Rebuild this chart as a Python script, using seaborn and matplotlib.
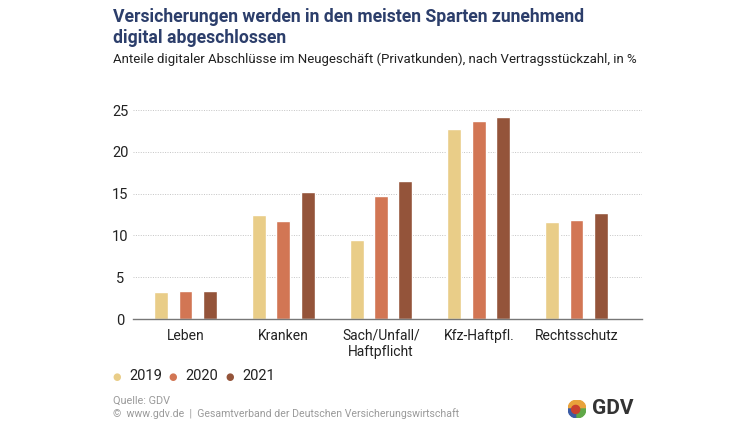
import matplotlib
matplotlib.use("Agg")
import matplotlib.pyplot as plt
import seaborn as sns
import pandas as pd
from matplotlib.patches import Wedge, Circle

categories = ["Leben", "Kranken", "Sach/Unfall/\nHaftpflicht", "Kfz-Haftpfl.", "Rechtsschutz"]
years = ["2019", "2020", "2021"]
v2019 = [3.2, 12.5, 9.5, 22.8, 11.6]
v2020 = [3.4, 11.7, 14.7, 23.7, 11.9]
v2021 = [3.4, 15.2, 16.5, 24.2, 12.7]
yticks = [0, 5, 10, 15, 20, 25]
colors = ["#E9CD88", "#D27654", "#94543A"]

rows = []
for y, vals in zip(years, [v2019, v2020, v2021]):
    for c, v in zip(categories, vals):
        rows.append({"Sparte": c, "Jahr": y, "Wert": v})
df = pd.DataFrame(rows)

sns.set_theme(style="white")
plt.rcParams["font.family"] = ["Roboto", "DejaVu Sans"]

fig = plt.figure(figsize=(7.5, 4.22), dpi=100)
ax = fig.add_axes([0.177, 0.244, 0.679, 0.495])

sns.barplot(data=df, x="Sparte", y="Wert", hue="Jahr", palette=colors,
            order=categories, hue_order=years, width=0.75, gap=0.43,
            ax=ax, legend=False, saturation=1, errorbar=None)

ax.set_ylim(0, 25)
ax.set_xlim(-0.54, 4.67)
ax.set_yticks(yticks)
ax.set_yticklabels([str(t) for t in yticks], fontsize=10.5, color="#222222", ha="center")
ax.tick_params(axis="y", length=0, pad=9)
ax.tick_params(axis="x", length=0, pad=7, labelsize=10, labelcolor="#222222")
ax.set_xlabel("")
ax.set_ylabel("")
for t in yticks[1:]:
    ax.axhline(t, color="#C4C4C4", lw=0.7, ls=(0, (1, 1.5)), zorder=0)
for s in ["top", "right", "left"]:
    ax.spines[s].set_visible(False)
ax.spines["bottom"].set_color("#777777")
ax.spines["bottom"].set_linewidth(1.0)

# Titles
fig.text(113/750, 1-17/422, "Versicherungen werden in den meisten Sparten zunehmend",
         fontsize=12.7, fontweight="bold", color="#2C3E6B", va="center", ha="left")
fig.text(113/750, 1-38/422, "digital abgeschlossen",
         fontsize=12.7, fontweight="bold", color="#2C3E6B", va="center", ha="left")
fig.text(113/750, 1-59/422,
         "Anteile digitaler Abschlüsse im Neugeschäft (Privatkunden), nach Vertragsstückzahl, in %",
         fontsize=9.55, color="#222222", va="center", ha="left")

# Legend
lx = [117, 173, 230]
for x, y_, c in zip(lx, years, colors):
    fig.text(x/750, 1-377/422, "●", color=c, fontsize=7, va="center", ha="center")
    fig.text((x+12)/750, 1-376/422, y_, color="#222222", fontsize=10.5, va="center", ha="left")

# Footer
fig.text(113/750, 1-401/422, "Quelle: GDV", fontsize=7.8, color="#9A9A9A", va="center", ha="left")
fig.text(113/750, 1-414/422,
         "©  www.gdv.de  |  Gesamtverband der Deutschen Versicherungswirtschaft",
         fontsize=7.6, color="#9A9A9A", va="center", ha="left")

# Logo
lax = fig.add_axes([568/750, 1-418/422, 18/750, 18/422])
lax.set_xlim(-1, 1); lax.set_ylim(-1, 1); lax.set_aspect("equal"); lax.axis("off")
lax.add_patch(Wedge((0, 0), 1, 0, 180, color="#E9A23B"))
lax.add_patch(Wedge((0, 0), 1, 180, 270, color="#3B5BA5"))
lax.add_patch(Wedge((0, 0), 1, 270, 360, color="#5FA847"))
lax.add_patch(Circle((-0.15, -0.05), 0.45, color="#C9402E"))
fig.text(592/750, 1-409/422, "GDV", fontsize=15, fontweight="bold", color="#333333",
         va="center", ha="left")

fig.savefig("out.png", dpi=100)
